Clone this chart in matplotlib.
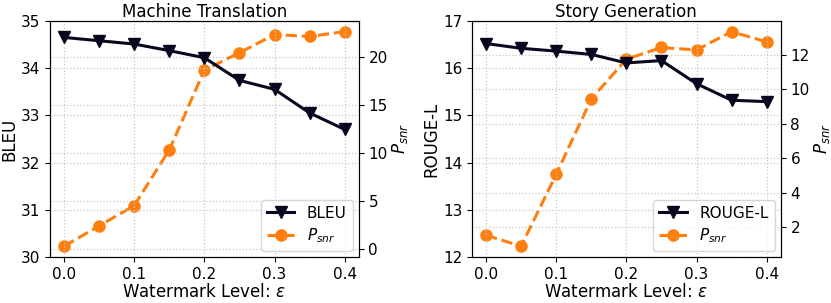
import matplotlib
matplotlib.use("Agg")
import matplotlib.pyplot as plt

eps = [0.0, 0.05, 0.1, 0.15, 0.2, 0.25, 0.3, 0.35, 0.4]
xticks = [0.0, 0.1, 0.2, 0.3, 0.4]

bleu = [34.65, 34.58, 34.51, 34.37, 34.22, 33.74, 33.55, 33.05, 32.70]
psnr_mt = [0.28, 2.4, 4.5, 10.3, 18.6, 20.4, 22.3, 22.1, 22.6]

rouge = [16.52, 16.42, 16.36, 16.29, 16.11, 16.16, 15.67, 15.32, 15.29]
psnr_sg = [1.54, 0.90, 5.07, 9.45, 11.75, 12.43, 12.29, 13.35, 12.75]

panels = [
    ("Machine Translation", "BLEU", bleu, psnr_mt, (30, 35), [30, 31, 32, 33, 34, 35]),
    ("Story Generation", "ROUGE-L", rouge, psnr_sg, (12, 17), [12, 13, 14, 15, 16, 17]),
]

dark = '#07071f'
orange = '#ff7f0e'
grid_kw = dict(color='#c8c8c8', linestyle=':', linewidth=0.9)

fig = plt.figure(figsize=(8.31, 3.03), dpi=100)
lefts = [0.0602, 0.568]
width = 0.3715
for (title, ylab, metric, psnr, ylim, yt), l in zip(panels, lefts):
    ax = fig.add_axes([l, 0.152, width, 0.779])
    ax2 = ax.twinx()
    l1, = ax.plot(eps, metric, color=dark, marker='v', markersize=8, linewidth=2.2, label=ylab, zorder=3)
    l2, = ax2.plot(eps, psnr, color=orange, marker='o', markersize=8, linewidth=2.2, linestyle='--', label=r'$P_{snr}$')
    ax.set_ylim(*ylim)
    ax.set_yticks(yt)
    ax.set_xticks(xticks)
    ax.set_xticklabels([f"{v:.1f}" for v in xticks])
    ax.grid(True, **grid_kw)
    ax2.grid(True, axis='y', **grid_kw)
    ax.set_axisbelow(True)
    ax.set_title(title, fontsize=12, pad=3)
    ax.set_xlabel(r'Watermark Level: $\epsilon$', fontsize=12, labelpad=1)
    ax.set_ylabel(ylab, fontsize=12, labelpad=2)
    ax2.set_ylabel(r'$P_{snr}$', fontsize=12, labelpad=2)
    ax.tick_params(labelsize=11)
    ax2.tick_params(labelsize=11)
    ax.set_zorder(ax2.get_zorder() + 1)
    ax.patch.set_visible(False)
    ax.legend([l1, l2], [ylab, r'$P_{snr}$'], loc='lower right', fontsize=11,
              labelspacing=0.35, handlelength=1.8, borderaxespad=0.4)

fig.savefig("out.png", dpi=100)
